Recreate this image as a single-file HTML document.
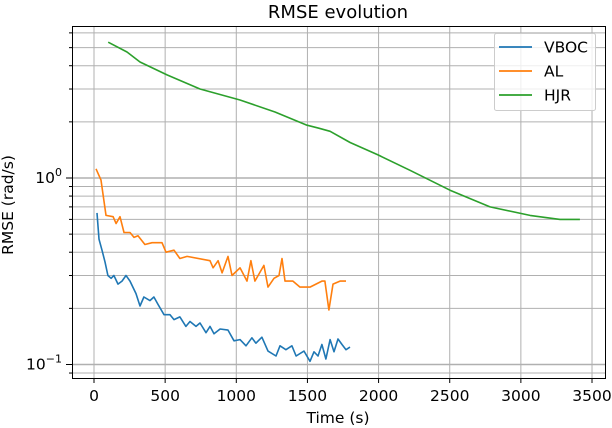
<!DOCTYPE html>
<html><head><meta charset="utf-8"><style>
body{margin:0;background:#fff;}
svg{display:block;font-family:"DejaVu Sans","Liberation Sans",sans-serif;}
</style></head><body>
<svg id="chart" width="612" height="428" viewBox="0 0 612 428">
<g id="grid"></g>
<g id="series"></g>
<rect x="72.5" y="26.5" width="533" height="352" fill="none" stroke="#000" stroke-width="1"/>
<g id="axes"></g>
<text x="338" y="18" font-size="18" text-anchor="middle">RMSE evolution</text>
<text x="338" y="423" font-size="15.5" text-anchor="middle">Time (s)</text>
<text transform="translate(13,205) rotate(-90)" font-size="15.5" text-anchor="middle">RMSE (rad/s)</text>
<g>
<rect x="494.5" y="33.5" width="101" height="77" rx="2" fill="#fff" fill-opacity="0.8" stroke="#ccc"/>
<line x1="499" y1="47" x2="532" y2="47" stroke="#1f77b4" stroke-width="1.8"/>
<text x="544" y="52.5" font-size="15.5">VBOC</text>
<line x1="499" y1="71" x2="532" y2="71" stroke="#ff7f0e" stroke-width="1.8"/>
<text x="544" y="76.5" font-size="15.5">AL</text>
<line x1="499" y1="95" x2="532" y2="95" stroke="#2ca02c" stroke-width="1.8"/>
<text x="544" y="100.5" font-size="15.5">HJR</text>
</g>
</svg>
<script>
const xTicks=[0,500,1000,1500,2000,2500,3000,3500];
const yMinor=[0.09,0.2,0.3,0.4,0.5,0.6,0.7,0.8,0.9,2,3,4,5,6];
const yMajor=[0.1,1];
const hjrT=[100,232,323,513,745,1026,1272,1497,1580,1659,1800,1996,2221,2502,2783,3064,3275,3415];
const hjrV=[5.35,4.74,4.19,3.57,3.0,2.62,2.26,1.92,1.85,1.78,1.55,1.33,1.10,0.86,0.70,0.63,0.60,0.60];
const alT=[14,49,84,134,155,183,211,253,281,309,358,408,478,506,562,604,654,815,837,872,900,942,970,1026,1075,1103,1131,1194,1223,1265,1300,1321,1342,1398,1448,1518,1602,1623,1651,1680,1729,1771];
const alV=[1.12,0.975,0.63,0.62,0.57,0.62,0.51,0.51,0.48,0.49,0.44,0.45,0.45,0.40,0.41,0.37,0.38,0.36,0.33,0.36,0.31,0.38,0.30,0.33,0.28,0.36,0.28,0.34,0.26,0.29,0.30,0.37,0.28,0.28,0.26,0.26,0.28,0.28,0.196,0.27,0.28,0.28];
const vbT=[21,35,56,77,98,120,140,169,197,225,253,295,323,351,393,421,450,492,534,562,604,646,675,717,745,787,815,843,886,942,984,1026,1068,1110,1138,1180,1223,1279,1307,1349,1391,1420,1476,1518,1546,1574,1602,1630,1659,1687,1715,1743,1771,1799];
const vbV=[0.65,0.47,0.41,0.355,0.30,0.29,0.30,0.27,0.28,0.30,0.28,0.24,0.206,0.23,0.22,0.23,0.21,0.185,0.185,0.174,0.18,0.16,0.17,0.16,0.167,0.148,0.16,0.146,0.155,0.153,0.134,0.136,0.126,0.139,0.130,0.140,0.118,0.111,0.126,0.12,0.126,0.111,0.118,0.104,0.117,0.111,0.128,0.107,0.136,0.117,0.137,0.128,0.12,0.124];
const NS='http://www.w3.org/2000/svg';
function xS(t){return 94+t*0.14229;}
function yS(v){return 178-186.5*Math.log10(v);}
function mk(tag,attrs,parent){const e=document.createElementNS(NS,tag);for(const k in attrs)e.setAttribute(k,attrs[k]);parent.appendChild(e);return e;}
const grid=document.getElementById('grid'),axes=document.getElementById('axes'),ser=document.getElementById('series');
xTicks.forEach(t=>{const x=xS(t);
 const g=mk('line',{x1:x,x2:x,y1:26,y2:378,stroke:'#b0b0b0','stroke-width':1},grid);
 
 
 const tk=mk('line',{x1:x,x2:x,y1:378,y2:383,stroke:'#000'},axes);
 
 
 const tx=mk('text',{x:x,y:401,'font-size':15.5,'text-anchor':'middle'},axes);tx.textContent=t;
 
 
});
yMinor.forEach(v=>{const y=yS(v);if(y<26||y>378)return;
 const g=mk('line',{x1:72,x2:605,y1:y,y2:y,stroke:'#b0b0b0','stroke-width':1},grid);
 
 
 const tk=mk('line',{x1:69,x2:72,y1:y,y2:y,stroke:'#000'},axes);
 
 
});
yMajor.forEach(v=>{const y=yS(v);
 const g=mk('line',{x1:72,x2:605,y1:y,y2:y,stroke:'#b0b0b0','stroke-width':1.6},grid);
 
 
 const tk=mk('line',{x1:66,x2:72,y1:y,y2:y,stroke:'#000'},axes);
 
 
 const tx=mk('text',{x:62,y:y+5,'font-size':15.5,'text-anchor':'end'},axes);
 tx.innerHTML='10<tspan dy="-7" font-size="11">'+String(Math.round(Math.log10(v))).replace('-','\u2212')+'</tspan>';
 
 
});
function line(T,V,color,name){
 const d=T.map((t,i)=>(i?'L':'M')+xS(t).toFixed(1)+','+yS(V[i]).toFixed(1)).join('');
 const p=mk('path',{d:d,fill:'none',stroke:color,'stroke-width':1.6,'stroke-linejoin':'round'},ser);
 
 
}
line(hjrT,hjrV,'#2ca02c','hjr-line');
line(alT,alV,'#ff7f0e','al-line');
line(vbT,vbV,'#1f77b4','vboc-line');
</script>
</body></html>
